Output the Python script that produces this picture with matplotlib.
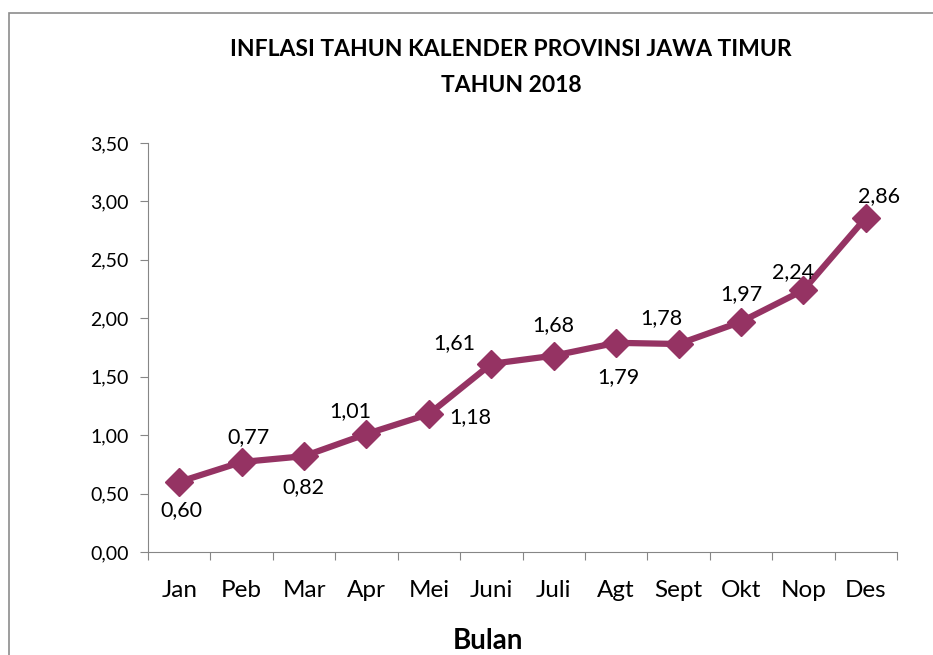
import matplotlib.pyplot as plt
import matplotlib.patches as mpatches
from matplotlib.ticker import FuncFormatter

plt.rcParams['font.family'] = ['Lato', 'DejaVu Sans']

bulan = ['Jan', 'Peb', 'Mar', 'Apr', 'Mei', 'Juni', 'Juli', 'Agt', 'Sept', 'Okt', 'Nop', 'Des']
inflasi = [0.60, 0.77, 0.82, 1.01, 1.18, 1.61, 1.68, 1.79, 1.78, 1.97, 2.24, 2.86]
# label offsets in pixels (dx, dy)
offsets = [(2, -28), (7, 25), (-1, -31), (-16, 23), (41, -3), (-37, 21), (0, 31), (2, -34), (-17, 26), (0, 28), (-10, 18), (13, 22)]

fig = plt.figure(figsize=(9.33, 6.55), dpi=100)
fig.patches.append(mpatches.Rectangle((9 / 933, -0.1), 1.2, 1.1 - 13 / 655, transform=fig.transFigure,
                                      fill=False, edgecolor='#8c8c8c', linewidth=1.2))

ax = fig.add_axes([148 / 933, 1 - 552 / 655, 749 / 933, 409 / 655])
x = list(range(len(bulan)))
ax.plot(x, inflasi, color='#953363', linewidth=4.5, marker='D', markersize=14, solid_joinstyle='round')

for xi, v, (dx, dy) in zip(x, inflasi, offsets):
    ax.annotate(f'{v:.2f}'.replace('.', ','), (xi, v), xytext=(dx, dy), textcoords='offset pixels',
                ha='center', va='center', fontsize=15.5)

ax.set_xlim(-0.5, len(bulan) - 0.5)
ax.set_ylim(0, 3.5)
ax.set_yticks([0, 0.5, 1, 1.5, 2, 2.5, 3, 3.5])
ax.yaxis.set_major_formatter(FuncFormatter(lambda v, p: f'{v:.2f}'.replace('.', ',')))
ax.set_xticks([i - 0.5 for i in range(len(bulan) + 1)])
ax.set_xticklabels([])
ax.set_xticks(x, minor=True)
ax.set_xticklabels(bulan, minor=True, fontsize=17.5)
ax.tick_params(axis='x', which='minor', length=0, pad=20)
ax.tick_params(axis='both', which='major', length=6, color='#868686', direction='out', labelsize=14)
ax.tick_params(axis='y', pad=8)

for s in ['top', 'right']:
    ax.spines[s].set_visible(False)
for s in ['left', 'bottom']:
    ax.spines[s].set_color('#868686')

fig.text(511 / 933, 1 - 50 / 655, 'INFLASI TAHUN KALENDER PROVINSI JAWA TIMUR', ha='center', va='center',
         fontsize=16.5, fontweight='bold')
fig.text(511 / 933, 1 - 85 / 655, 'TAHUN 2018', ha='center', va='center', fontsize=16.5, fontweight='bold')
fig.text(488 / 933, 1 - 641 / 655, 'Bulan', ha='center', va='center', fontsize=20, fontweight='bold')

fig.savefig('out.png', dpi=100)
